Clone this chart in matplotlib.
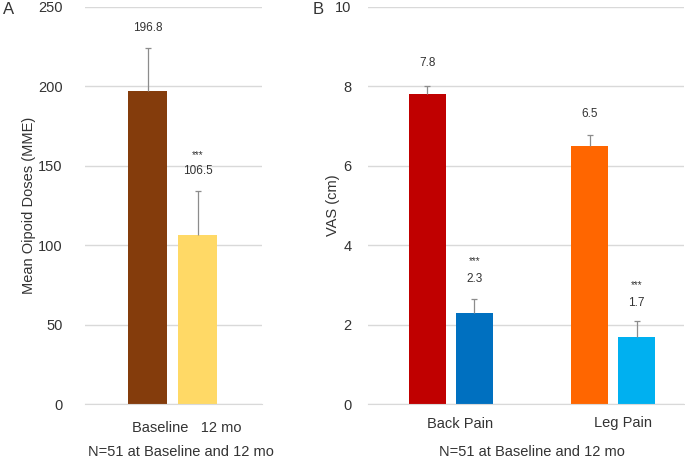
import numpy as np
import matplotlib
matplotlib.use("Agg")
import matplotlib.pyplot as plt

plt.rcParams['font.family'] = ['Liberation Sans', 'DejaVu Sans']

# panel A - opioid doses
opioid_labels = ['Baseline', '12 mo']
opioid_mean = [196.8, 106.5]
opioid_err = [27.4, 27.7]
opioid_colors = ['#843C0C', '#FFD966']
opioid_sig = ['', '***']

# panel B - VAS pain
pain_groups = ['Back Pain', 'Leg Pain']
vas_baseline = [7.8, 6.5]
vas_12mo = [2.3, 1.7]
vas_err_baseline = [0.2, 0.27]
vas_err_12mo = [0.35, 0.38]
vas_colors_baseline = ['#C00000', '#FF6600']
vas_colors_12mo = ['#0070C0', '#00B0F0']

footer = 'N=51 at Baseline and 12 mo'
grid_col = '#D9D9D9'
err_col = '#8C8C8C'
txt_col = '#333333'

fig = plt.figure(figsize=(6.85, 4.58), dpi=100)
axA = fig.add_axes([85/685, 1-404/458, 177/685, 397/458])
axB = fig.add_axes([368/685, 1-404/458, 316/685, 397/458])

def style(ax, ymax, step, pad):
    ax.set_ylim(0, ymax)
    ax.set_yticks(np.arange(0, ymax + step/2, step))
    ax.yaxis.grid(True, color=grid_col, lw=1.0)
    ax.set_axisbelow(True)
    for s in ['left', 'right', 'top']:
        ax.spines[s].set_visible(False)
    ax.spines['bottom'].set_color(grid_col)
    ax.tick_params(axis='both', length=0, labelsize=10.5, colors=txt_col)
    ax.tick_params(axis='y', pad=pad)

def up_err(ax, x, y, e):
    eb = ax.errorbar(x, y, yerr=[np.zeros(len(e)), e], fmt='none',
                     ecolor=err_col, elinewidth=0.9, capsize=2, capthick=0.9)
    eb[1][0].set_visible(False)  # hide the lower cap sitting on the bar

# ---- A ----
xa = np.arange(len(opioid_mean))
axA.bar(xa, opioid_mean, width=0.78, color=opioid_colors)
up_err(axA, xa, opioid_mean, opioid_err)
style(axA, 250, 50, 16)
axA.set_xlim(-1.25, 2.29)
axA.set_xticks([])
for i in range(len(opioid_mean)):
    y = opioid_mean[i] + 40
    axA.text(xa[i], y, '%.1f' % opioid_mean[i], ha='center', va='center', fontsize=8.5, color=txt_col)
    if opioid_sig[i]:
        axA.text(xa[i], y + 10.5, opioid_sig[i], ha='center', va='center', fontsize=7, color=txt_col)
axA.text(0.265, -0.06, opioid_labels[0] + '   ' + opioid_labels[1], transform=axA.transAxes,
         ha='left', va='center', fontsize=10.5, color=txt_col)
axA.set_ylabel('Mean Oipoid Doses (MME)', fontsize=10.5, color=txt_col)
axA.yaxis.set_label_coords(-0.275, 0.5)
fig.text(181/685, 1-452/458, footer, ha='center', va='center', fontsize=10.5, color=txt_col)
fig.text(3/685, 1-10/458, 'A', ha='left', va='center', fontsize=12, color=txt_col)

# ---- B ----
g = np.array([0, 3.47])
w = 0.79
axB.bar(g - 0.5, vas_baseline, width=w, color=vas_colors_baseline)
axB.bar(g + 0.5, vas_12mo, width=w, color=vas_colors_12mo)
up_err(axB, g - 0.5, vas_baseline, vas_err_baseline)
up_err(axB, g + 0.5, vas_12mo, vas_err_12mo)
style(axB, 10, 2, 12)
axB.set_xlim(-1.77, 4.98)
axB.set_xticks(g + 0.2)
axB.set_xticklabels(pain_groups)
axB.tick_params(axis='x', pad=9)
for i in range(len(g)):
    yb = vas_baseline[i] + 0.8
    axB.text(g[i] - 0.5, yb, '%.1f' % vas_baseline[i], ha='center', va='center', fontsize=8.5, color=txt_col)
    yf = vas_12mo[i] + 0.85
    axB.text(g[i] + 0.5, yf, '%.1f' % vas_12mo[i], ha='center', va='center', fontsize=8.5, color=txt_col)
    axB.text(g[i] + 0.5, yf + 0.45, '***', ha='center', va='center', fontsize=7, color=txt_col)
axB.set_ylabel('VAS (cm)', fontsize=10.5, color=txt_col)
axB.yaxis.set_label_coords(-0.09, 0.5)
fig.text(532/685, 1-452/458, footer, ha='center', va='center', fontsize=10.5, color=txt_col)
fig.text(313/685, 1-10/458, 'B', ha='left', va='center', fontsize=12, color=txt_col)

fig.savefig('out.png', dpi=100)
